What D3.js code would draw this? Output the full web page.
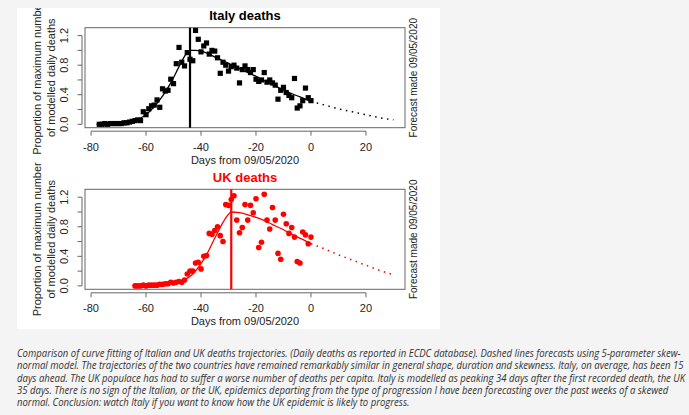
<!DOCTYPE html>
<html>
<head>
<meta charset="utf-8">
<script src="https://cdn.jsdelivr.net/npm/d3@7"></script>
<style>
  body { margin: 0; background: #f4f4f4; }
  svg { display: block; }
  text { font-family: "Liberation Sans", Arial, sans-serif; }
</style>
</head>
<body>
<svg id="foo" width="689" height="415"></svg>
<script>
// daily deaths as proportion of the modelled peak, day 0 = 09/05/2020
var italyFirstDay = -77;
var italyDeaths = [0.0, 0.0, 0.01, 0.0, 0.01, 0.01, 0.01, 0.01, 0.01, 0.02,
  0.02, 0.03, 0.04, 0.05, 0.06, 0.05, 0.17, 0.13, 0.21, 0.25,
  0.26, 0.33, 0.23, 0.48, 0.45, 0.46, 0.61, 0.55, 0.82, 1.04,
  0.84, 0.79, 0.97, 0.88, 0.86, 1.27, 1.15, 0.98, 1.06, 1.10,
  0.95, 1.0, 0.99, 0.9, 0.69, 0.84, 0.8, 0.72, 0.78, 0.8,
  0.76, 0.56, 0.74, 0.79, 0.74, 0.7, 0.74, 0.61, 0.58, 0.6,
  0.7, 0.57, 0.6, 0.56, 0.53, 0.34, 0.46, 0.5, 0.43, 0.39,
  0.36, 0.62, 0.22, 0.25, 0.32, 0.49, 0.36, 0.32];

var ukFirstDay = -64;
var ukDeaths = [0.0, 0.0, 0.0, 0.01, 0.0, 0.01, 0.01, 0.01, 0.01, 0.02,
  0.02, 0.03, 0.03, 0.05, 0.04, 0.05, 0.06, 0.05, 0.08, 0.16,
  0.2, 0.2, 0.31, 0.32, 0.23, 0.4, 0.41, 0.71, 0.7, 0.75,
  0.8, 0.68, 0.6, 1.1, 1.09, 1.17, 1.22, 0.89, 0.72, 0.79,
  1.1, 0.89, 1.09, 0.99, 1.18, 0.52, 0.59, 1.24, 0.89, 0.77,
  1.06, 0.89, 0.44, 0.36, 0.97, 0.84, 0.71, 0.79, 0.66, 0.33,
  0.31, 0.73, 0.69, 0.57, 0.66];

// fitted skew-normal curves
var italyFit = [[-78, 0.0], [-70, 0.01], [-66, 0.03], [-63, 0.07], [-60, 0.13], [-57, 0.24],
  [-54, 0.38], [-51, 0.56], [-48, 0.78], [-46, 0.92], [-44, 1.0], [-42, 1.0], [-40, 0.99],
  [-36, 0.93], [-32, 0.86], [-28, 0.79], [-24, 0.72], [-20, 0.65], [-16, 0.57],
  [-12, 0.5], [-8, 0.43], [-4, 0.37], [0, 0.31]];
var italyForecast = [[0, 0.31], [5, 0.26], [10, 0.21], [15, 0.17], [20, 0.13], [25, 0.09], [30, 0.06]];

var ukFit = [[-64, 0.0], [-56, 0.01], [-50, 0.03], [-46, 0.08], [-43, 0.16], [-40, 0.3],
  [-38, 0.42], [-36, 0.57], [-34, 0.72], [-32, 0.86], [-30, 0.97], [-29, 1.0], [-26, 0.99],
  [-22, 0.95], [-18, 0.9], [-14, 0.83], [-10, 0.76], [-6, 0.68], [-2, 0.61], [0, 0.57]];
var ukForecast = [[0, 0.57], [5, 0.5], [10, 0.42], [15, 0.35], [20, 0.28], [25, 0.21], [30, 0.15]];

var italyPeak = -44;
var ukPeak = -29;

var xTicks = [-80, -60, -40, -20, 0, 20];
var yTicks = [0, 0.2, 0.4, 0.6, 0.8, 1.0, 1.2];
var yLabels = [0, 0.4, 0.8, 1.2];

var captionLines = [
  "Comparison of curve fitting of Italian and UK deaths trajectories. (Daily deaths as reported in ECDC database). Dashed lines forecasts using 5-parameter skew-",
  "normal model. The trajectories of the two countries have remained remarkably similar in general shape, duration and skewness. Italy, on average, has been 15",
  "days ahead. The UK populace has had to suffer a worse number of deaths per capita. Italy is modelled as peaking 34 days after the first recorded death, the UK",
  "35 days. There is no sign of the Italian, or the UK, epidemics departing from the type of progression I have been forecasting over the past weeks of a skewed",
  "normal. Conclusion: watch Italy if you want to know how the UK epidemic is likely to progress."
];

var svg = d3.select('#foo');

svg.append("clipPath").attr("id", "pic")
  .append("rect").attr("x", 17).attr("y", 8).attr("width", 423).attr("height", 321);

svg.append("rect")
  .attr("x", 17).attr("y", 8).attr("width", 423).attr("height", 321)
  .style("fill", "#fff");

var pic = svg.append("g").attr("clip-path", "url(#pic)");

var x = d3.scaleLinear().domain([-82.2, 34.2]).range([85, 405]);
var y = d3.scaleLinear().domain([-0.046, 1.307]).range([100, 0]);

function panel(top, name, color, firstDay, deaths, fit, forecast, peak, squares) {
  var g = pic.append("g").attr("transform", "translate(0," + top + ")");

  g.append("rect")
    .attr("x", 85).attr("y", 0).attr("width", 320).attr("height", 100)
    .style("fill", "none").style("stroke", "#666").style("stroke-width", 1);

  // x axis
  g.append("line")
    .attr("x1", x(-80)).attr("x2", x(20)).attr("y1", 103.5).attr("y2", 103.5)
    .style("stroke", "#666");
  g.selectAll(".xt").data(xTicks).enter().append("line")
    .attr("x1", function(d) { return x(d); }).attr("x2", function(d) { return x(d); })
    .attr("y1", 103.5).attr("y2", 108)
    .style("stroke", "#666");
  g.selectAll(".xl").data(xTicks).enter().append("text")
    .attr("x", function(d) { return x(d); })
    .attr("y", 123)
    .attr("text-anchor", "middle")
    .style("font-size", "11px").style("fill", "#222")
    .text(function(d) { return d; });
  g.append("text")
    .attr("x", 245).attr("y", 136)
    .attr("text-anchor", "middle")
    .style("font-size", "11px").style("fill", "#222")
    .text("Days from 09/05/2020");

  // y axis
  g.append("line")
    .attr("x1", 82).attr("x2", 82).attr("y1", y(0)).attr("y2", y(1.2))
    .style("stroke", "#666");
  g.selectAll(".yt").data(yTicks).enter().append("line")
    .attr("x1", 77.5).attr("x2", 82)
    .attr("y1", function(d) { return y(d); }).attr("y2", function(d) { return y(d); })
    .style("stroke", "#666");
  g.selectAll(".yl").data(yLabels).enter().append("text")
    .attr("transform", function(d) { return "translate(67.5," + y(d) + ") rotate(-90)"; })
    .attr("text-anchor", "middle")
    .style("font-size", "11px").style("fill", "#222")
    .text(function(d) { return d.toFixed(1); });

  g.append("text")
    .attr("transform", "translate(41,50) rotate(-90)")
    .attr("text-anchor", "middle")
    .style("font-size", "11px").style("fill", "#222")
    .text("Proportion of maximum number");
  g.append("text")
    .attr("transform", "translate(55,50) rotate(-90)")
    .attr("text-anchor", "middle")
    .style("font-size", "11px").style("fill", "#222")
    .text("of modelled daily deaths");

  g.append("text")
    .attr("transform", "translate(417,50) rotate(-90)")
    .attr("text-anchor", "middle")
    .style("font-size", "10px").style("fill", "#222")
    .text("Forecast made 09/05/2020");

  g.append("text")
    .attr("x", 245).attr("y", -7.5)
    .attr("text-anchor", "middle")
    .style("font-size", "13px").style("font-weight", "bold").style("fill", color)
    .text(name);

  var line = d3.line()
    .x(function(d) { return x(d[0]); })
    .y(function(d) { return y(d[1]); })
    .curve(d3.curveMonotoneX);

  // points
  var pts = deaths.map(function(v, i) { return [firstDay + i, v]; });
  if (squares) {
    g.selectAll(".pt").data(pts).enter().append("rect")
      .attr("x", function(d) { return x(d[0]) - 2.6; })
      .attr("y", function(d) { return y(d[1]) - 2.6; })
      .attr("width", 5.2).attr("height", 5.2)
      .style("fill", color);
  } else {
    g.selectAll(".pt").data(pts).enter().append("circle")
      .attr("cx", function(d) { return x(d[0]); })
      .attr("cy", function(d) { return y(d[1]); })
      .attr("r", 2.8)
      .style("fill", color);
  }

  g.append("path").datum(fit)
    .attr("d", line)
    .style("fill", "none").style("stroke", color).style("stroke-width", 1.3);
  g.append("path").datum(forecast)
    .attr("d", line)
    .style("fill", "none").style("stroke", color).style("stroke-width", 1.5)
    .style("stroke-dasharray", "1.5,4.5");

  g.append("line")
    .attr("x1", x(peak)).attr("x2", x(peak)).attr("y1", 0).attr("y2", 100)
    .style("stroke", color).style("stroke-width", 2.2);
}

panel(27.7, "Italy deaths", "#000", italyFirstDay, italyDeaths, italyFit, italyForecast, italyPeak, true);
panel(189.3, "UK deaths", "#ff0000", ukFirstDay, ukDeaths, ukFit, ukForecast, ukPeak, false);

// caption under the picture
var cap = svg.append("g");
var capText = cap.selectAll("text").data(captionLines).enter().append("text")
  .attr("x", 0)
  .attr("y", function(d, i) { return i * 12.3; })
  .style("font-family", "'Open Sans', sans-serif")
  .style("font-style", "italic")
  .style("font-size", "10px")
  .style("fill", "#333")
  .text(function(d) { return d; });
var widest = capText.nodes()[2].getComputedTextLength();
cap.attr("transform", "translate(17,357) scale(" + (669 / widest) + ",1)");
</script>
</body>
</html>
